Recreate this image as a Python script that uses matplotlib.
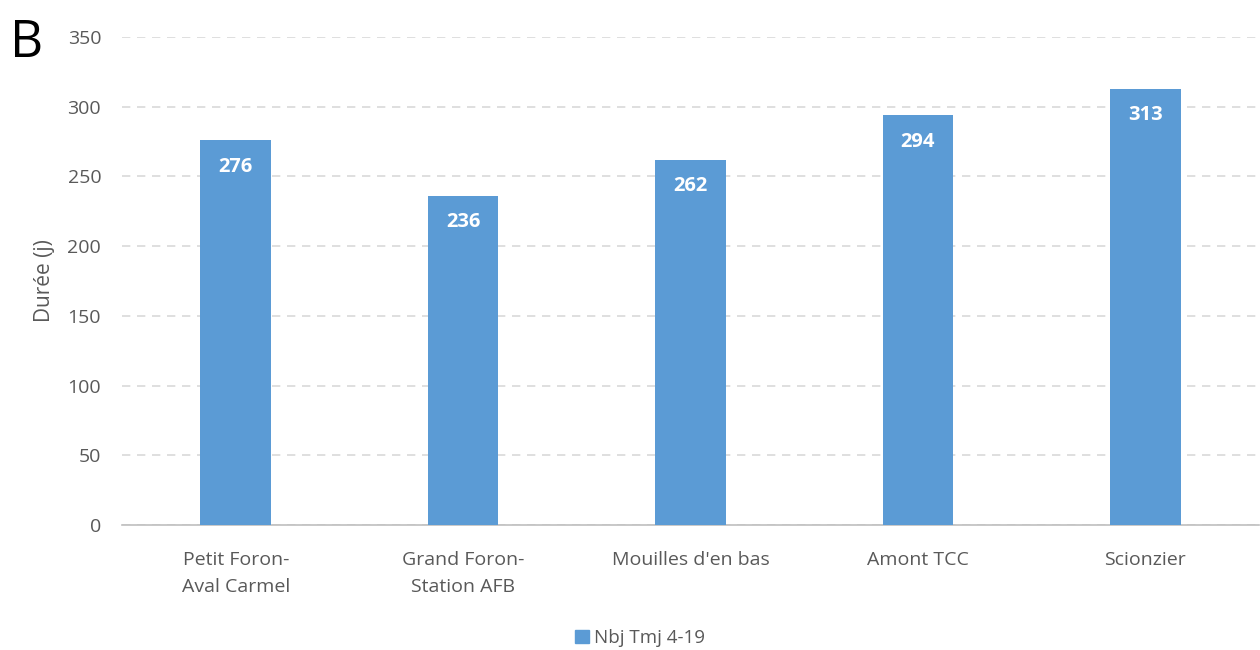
import numpy as np
import matplotlib.pyplot as plt
from matplotlib.patches import Patch

# data
stations = ["Petit Foron-\nAval Carmel", "Grand Foron-\nStation AFB", "Mouilles d'en bas", "Amont TCC", "Scionzier"]
nbj_tmj = [276, 236, 262, 294, 313]
yticks = [0, 50, 100, 150, 200, 250, 300, 350]

plt.rcParams["font.family"] = ["Open Sans", "DejaVu Sans"]
bar_color = "#5b9bd5"
txt_gray = "#595959"

fig = plt.figure(figsize=(12.6, 6.5), dpi=100)
ax = fig.add_axes([122/1260, 1 - 525/650, (1259 - 122)/1260, 488/650])

x = np.arange(len(stations))
bars = ax.bar(x, nbj_tmj, width=0.31, color=bar_color, zorder=3)
for b, v in zip(bars, nbj_tmj):
    ax.text(b.get_x() + b.get_width()/2, v - 19, str(v), ha="center", va="center",
            color="white", fontsize=14.5, fontweight="bold", zorder=4)

ax.set_xlim(-0.5, len(stations) - 0.5)
ax.set_ylim(0, 350)
ax.set_yticks(yticks)
ax.set_xticks(x)
ax.set_xticklabels(stations, fontsize=14, color=txt_gray, linespacing=1.65, va="top")
ax.tick_params(axis="y", labelsize=14, labelcolor=txt_gray, length=0, pad=15)
ax.tick_params(axis="x", length=0, pad=19)
ax.yaxis.grid(True, color="#d9d9d9", linestyle=(0, (5, 4)), linewidth=1.2, zorder=0)
for s in ["top", "right", "left"]:
    ax.spines[s].set_visible(False)
ax.spines["bottom"].set_color("#bfbfbf")
ax.spines["bottom"].set_linewidth(1.2)
ax.set_ylabel("Durée (j)", fontsize=15, color=txt_gray, labelpad=9)

fig.text(10/1260, 1 - 57/650, "B", fontsize=37, color="black", va="baseline")

fig.legend(handles=[Patch(color=bar_color, label="Nbj Tmj 4-19")], loc="center",
           bbox_to_anchor=(640/1260, 1 - 638/650), frameon=False, fontsize=13.5,
           handlelength=0.75, handleheight=0.75, handletextpad=0.3, labelcolor=txt_gray)

fig.savefig("out.png", dpi=100)
